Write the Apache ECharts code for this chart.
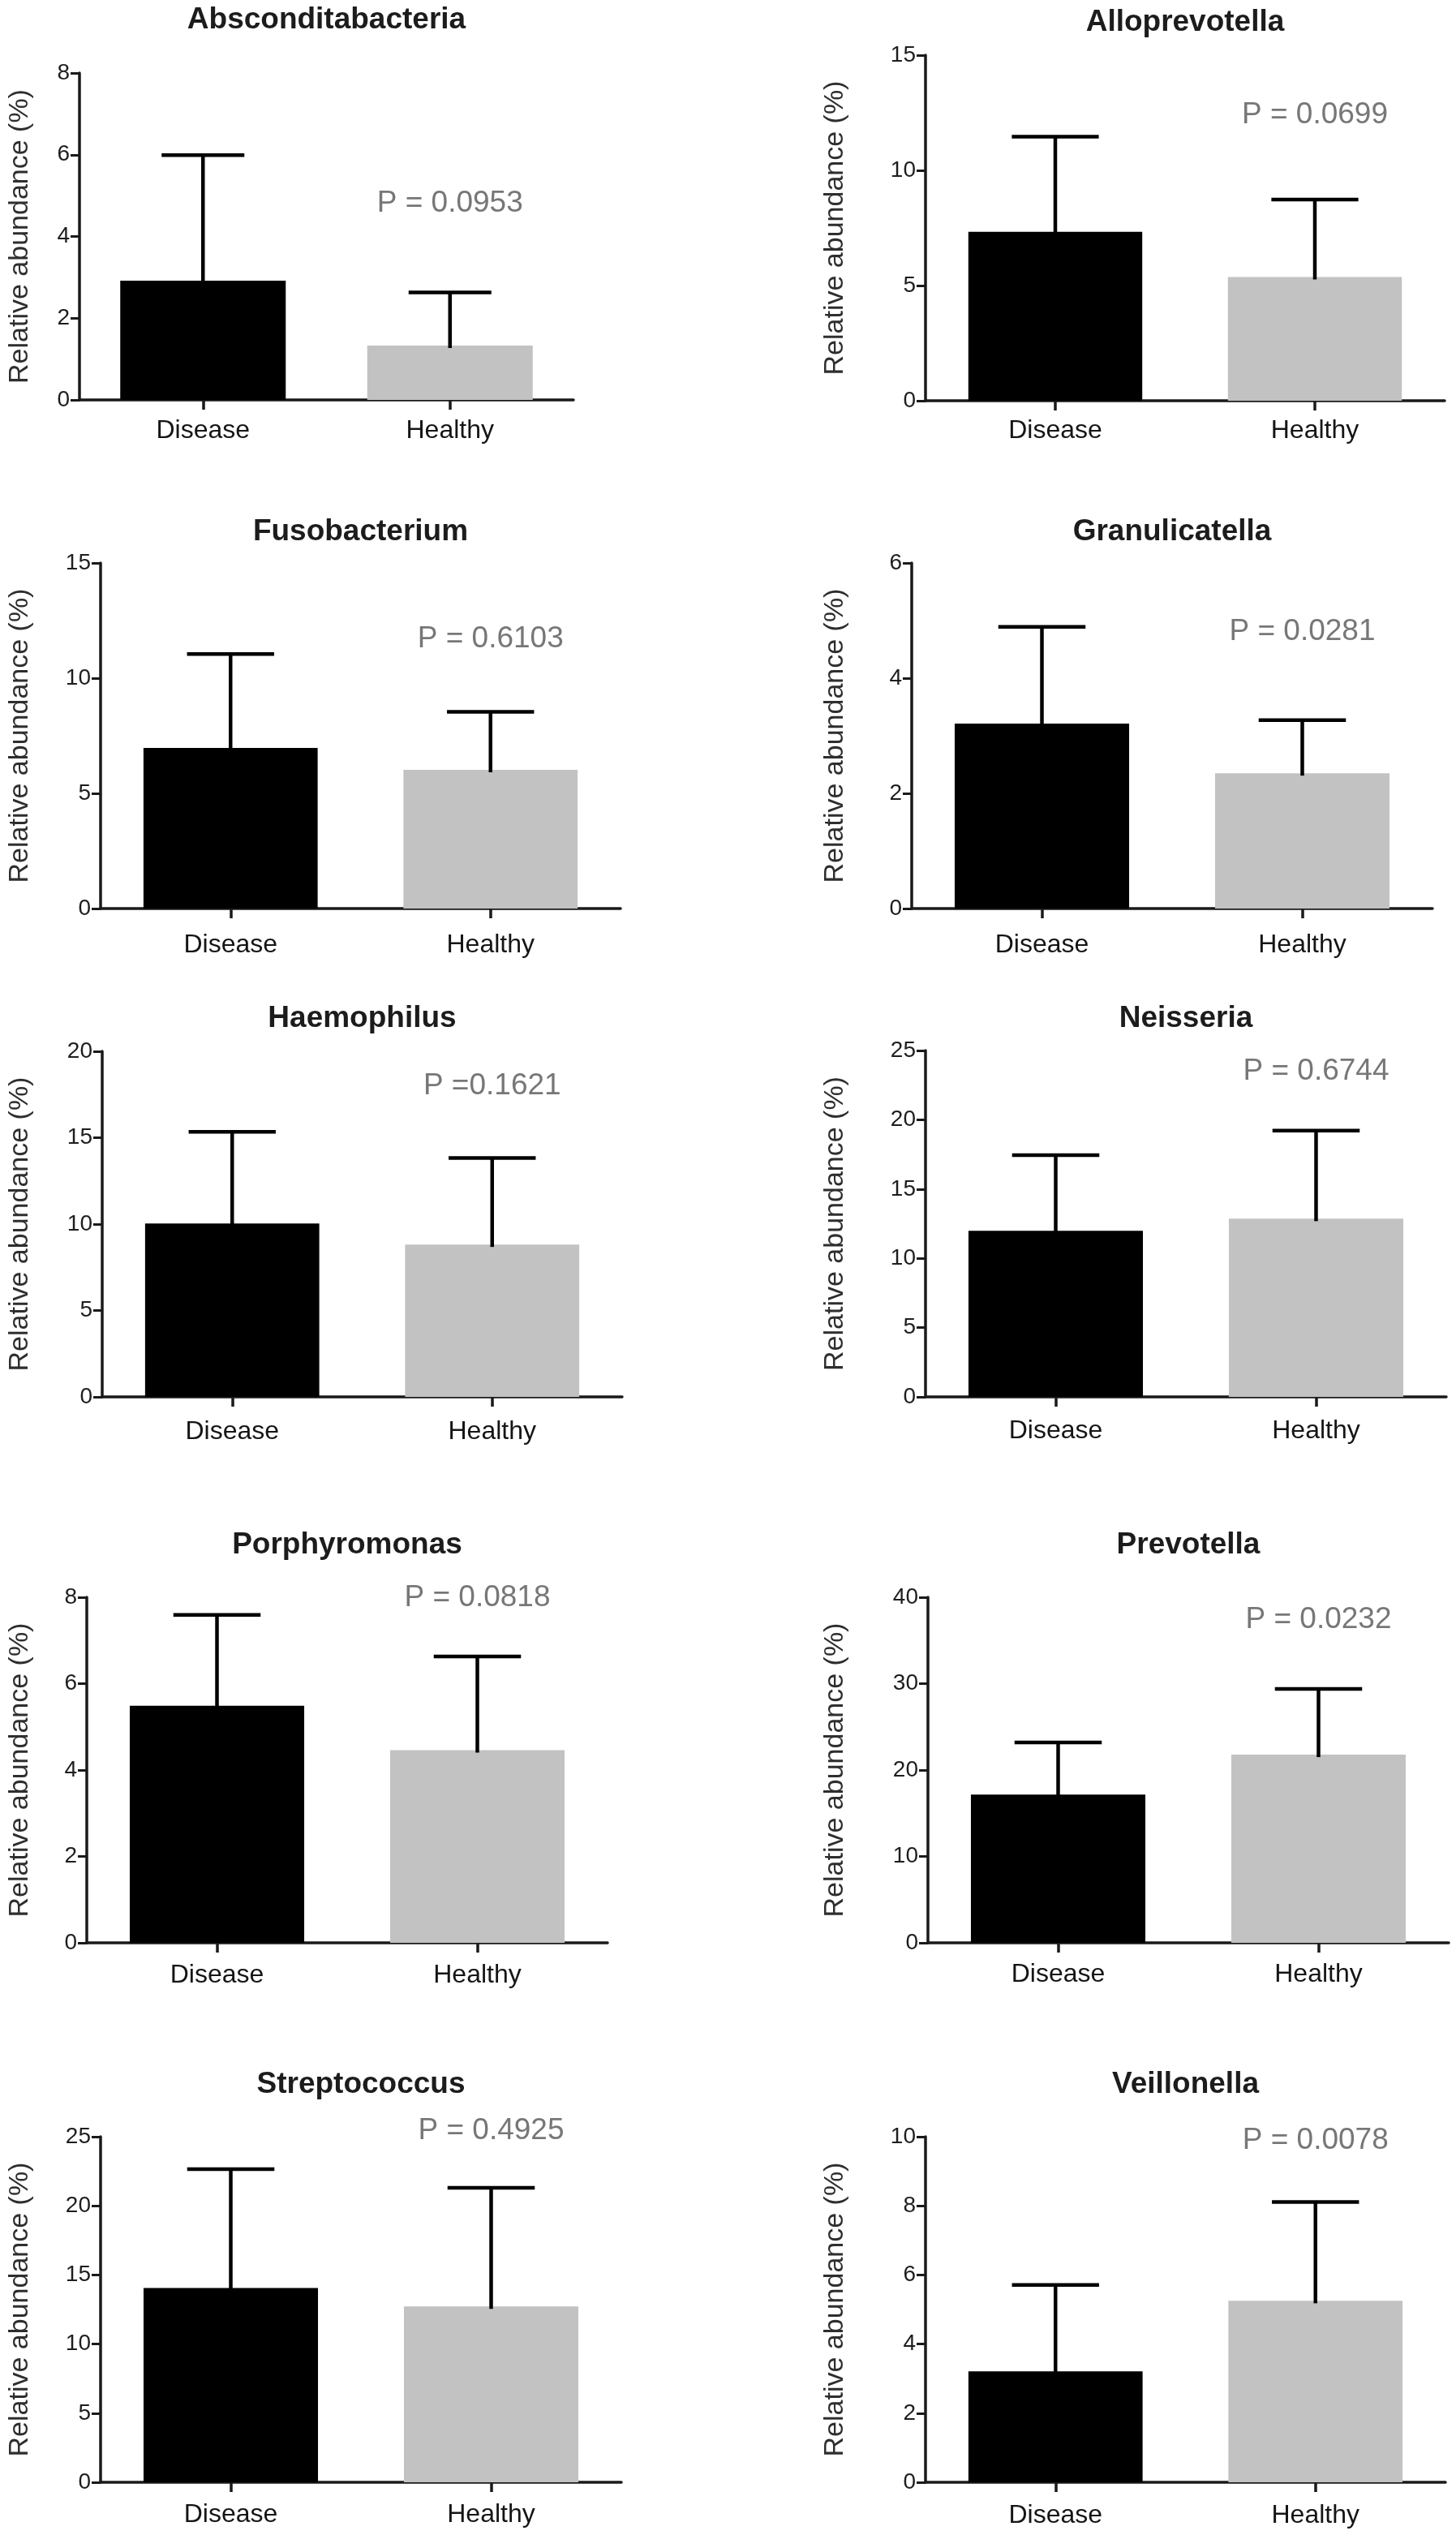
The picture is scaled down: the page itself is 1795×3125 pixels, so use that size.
<!DOCTYPE html>
<html>
<head>
<meta charset="utf-8">
<script src="https://cdn.jsdelivr.net/npm/echarts@6/dist/echarts.min.js"></script>
<style>
html,body{margin:0;padding:0;background:#fff;}
#c{width:1795px;height:3125px;}
</style>
</head>
<body>
<div id="c"></div>
<script>
// ---- data ----
const titles = ['Absconditabacteria','Alloprevotella','Fusobacterium','Granulicatella','Haemophilus','Neisseria','Porphyromonas','Prevotella','Streptococcus','Veillonella'];
const categories = ['Disease','Healthy'];
const diseaseMean  = [2.92, 7.33, 6.97, 3.21, 10.04, 11.99, 5.49, 17.16, 14.05, 3.21];
const diseaseUpper = [5.99, 11.46, 11.05, 4.89, 15.34, 17.44, 7.59, 23.2, 22.65, 5.71];
const healthyMean  = [1.33, 5.37, 6.02, 2.35, 8.82, 12.86, 4.46, 21.78, 12.72, 5.25];
const healthyUpper = [2.63, 8.73, 8.54, 3.27, 13.83, 19.22, 6.63, 29.4, 21.31, 8.11];
const pTexts = ['P = 0.0953','P = 0.0699','P = 0.6103','P = 0.0281','P =0.1621','P = 0.6744','P = 0.0818','P = 0.0232','P = 0.4925','P = 0.0078'];
const pLabelY = [4.8, 12.4, 11.7, 4.81, 18.0, 23.5, 7.98, 37.4, 25.4, 9.88];
const yMax  = [8, 15, 15, 6, 20, 25, 8, 40, 25, 10];
const yStep = [2, 5, 5, 2, 5, 5, 2, 10, 5, 2];
const yName = 'Relative abundance (%)';

// ---- layout (pixel boxes of each panel) ----
const layout = [
  {left:98,   top:90,   width:609, height:403, titleY:25,   lm:22, nameEdge:43},
  {left:1141, top:68,   width:640, height:426, titleY:28,   lm:21, nameEdge:1048},
  {left:124,  top:694,  width:641, height:426, titleY:656,  lm:29, nameEdge:43},
  {left:1124, top:694,  width:642, height:426, titleY:656,  lm:29, nameEdge:1048},
  {left:126,  top:1296, width:641, height:426, titleY:1256, lm:27, nameEdge:43},
  {left:1141, top:1295, width:642, height:427, titleY:1256, lm:26, nameEdge:1048},
  {left:107,  top:1969, width:642, height:426, titleY:1905, lm:24, nameEdge:43},
  {left:1144, top:1969, width:642, height:426, titleY:1905, lm:23, nameEdge:1048},
  {left:124,  top:2634, width:642, height:426, titleY:2570, lm:24, nameEdge:43},
  {left:1141, top:2634, width:641, height:426, titleY:2570, lm:25, nameEdge:1048}
];

const FONT = '"Liberation Sans", Arial, Helvetica, sans-serif';
const GAP = 0.33;

const chart = echarts.init(document.getElementById('c'), null, {renderer:'canvas'});

const grid = [], xAxis = [], yAxis = [], series = [], title = [];

layout.forEach((L, i) => {
  grid.push({left:L.left, top:L.top, width:L.width, height:L.height, containLabel:false});
  title.push({
    text: titles[i],
    left: L.left + L.width/2,
    top: L.titleY,
    textAlign: 'center',
    textVerticalAlign: 'middle',
    padding: 0,
    textStyle: {fontFamily: FONT, fontSize: 37, fontWeight: 'bold', color: '#1c1c1c'}
  });
  xAxis.push({
    type: 'category', gridIndex: i, data: categories,
    axisLine: {show: true, lineStyle: {color: '#1a1a1a', width: 3.5}},
    axisTick: {show: true, alignWithLabel: true, length: 12, lineStyle: {color: '#1a1a1a', width: 3.5}},
    axisLabel: {margin: L.lm, fontFamily: FONT, fontSize: 32, color: '#151515'},
    splitLine: {show: false}
  });
  yAxis.push({
    type: 'value', gridIndex: i, min: 0, max: yMax[i], interval: yStep[i],
    axisLine: {show: true, lineStyle: {color: '#1a1a1a', width: 3.5}},
    axisTick: {show: true, length: 11, lineStyle: {color: '#1a1a1a', width: 3}},
    axisLabel: {margin: 12, fontFamily: FONT, fontSize: 28, color: '#1e1e1e'},
    splitLine: {show: false},
    name: yName, nameLocation: 'middle', nameGap: L.left - L.nameEdge + 1,
    nameTextStyle: {fontFamily: FONT, fontSize: 34, color: '#2e2e2e'}
  });
  series.push({
    type: 'bar', xAxisIndex: i, yAxisIndex: i,
    barCategoryGap: (GAP*100) + '%',
    data: [
      {value: diseaseMean[i], itemStyle: {color: '#000000'}},
      {value: healthyMean[i], itemStyle: {color: '#c2c2c2'}}
    ],
    silent: true
  });
  series.push({
    type: 'custom', xAxisIndex: i, yAxisIndex: i, z: 5,
    data: [[0, diseaseMean[i], diseaseUpper[i]], [1, healthyMean[i], healthyUpper[i]]],
    encode: {x: 0, y: [1, 2]},
    renderItem: function (params, api) {
      const p0 = api.coord([api.value(0), api.value(1)]);
      const p1 = api.coord([api.value(0), api.value(2)]);
      const band = api.size([1, 0])[0];
      const half = band * (1 - GAP) / 4;
      const st = {stroke: '#000', lineWidth: 4.5};
      return {type: 'group', children: [
        {type: 'line', shape: {x1: p0[0], y1: p0[1] + 3, x2: p1[0], y2: p1[1]}, style: st},
        {type: 'line', shape: {x1: p1[0] - half, y1: p1[1], x2: p1[0] + half, y2: p1[1]}, style: st}
      ]};
    },
    silent: true
  });
  series.push({
    type: 'scatter', xAxisIndex: i, yAxisIndex: i, clip: false, z: 6,
    symbolSize: 1, itemStyle: {color: 'rgba(0,0,0,0)'},
    data: [[1, pLabelY[i]]],
    label: {show: true, position: 'inside', formatter: pTexts[i],
            fontFamily: FONT, fontSize: 37, color: '#555'},
    silent: true
  });
});

chart.setOption({
  backgroundColor: '#ffffff',
  animation: false,
  title, grid, xAxis, yAxis, series
});
</script>
</body>
</html>
